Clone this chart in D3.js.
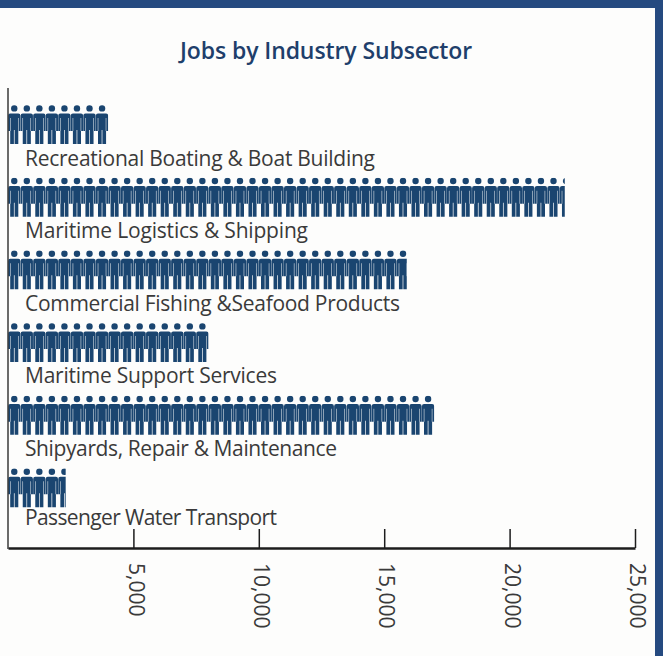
<!DOCTYPE html>
<html>
<head>
<meta charset="utf-8">
<script src="https://cdn.jsdelivr.net/npm/d3@7"></script>
<style>
html, body { margin: 0; padding: 0; background: #fdfdfc; }
svg { display: block; }
.label { font-family: "Open Sans", sans-serif; font-size: 21px; fill: #3a3a3a; }
.title { font-family: "Open Sans", sans-serif; font-size: 23px; font-weight: 600; letter-spacing: -0.1px; fill: #1f3f6b; text-anchor: middle; }
.tick text { font-family: "Open Sans", sans-serif; font-size: 21px; fill: #3a3a3a; }
</style>
</head>
<body>
<div id="chart"></div>
<script>
var svgWidth = 663;
var svgHeight = 656;

var categories = [
    "Recreational Boating & Boat Building",
    "Maritime Logistics & Shipping",
    "Commercial Fishing &Seafood Products",
    "Maritime Support Services",
    "Shipyards, Repair & Maintenance",
    "Passenger Water Transport"
];
var jobs = [4000, 22200, 15900, 8000, 17000, 2300];
var tickValues = [5000, 10000, 15000, 20000, 25000];
var jobsPerIcon = 500;

var svg = d3.select("#chart")
    .append("svg")
    .attr("width", svgWidth)
    .attr("height", svgHeight);

svg.append("rect")
    .attr("width", svgWidth)
    .attr("height", svgHeight)
    .attr("fill", "#fdfdfc");

var x = d3.scaleLinear().domain([0, 25000]).range([8, 635]);
var y = d3.scaleBand().domain(categories).range([105, 541]);

// the labels don't sit evenly in the original, so baseline and width go per row
var labelY = d3.scaleOrdinal().domain(categories).range([165.5, 238, 310.5, 383, 456, 525]);
var labelWidth = d3.scaleOrdinal().domain(categories).range([350, 283, 375, 252, 312, 252]);

var iconW = x(jobsPerIcon) - x(0);
var iconH = 39;

svg.append("text")
    .attr("class", "title")
    .attr("x", 326)
    .attr("y", 59)
    .text("Jobs by Industry Subsector");

// person icon, drawn in a 12.5 x 39 box
var defs = svg.append("defs");
var person = defs.append("g").attr("id", "person");
person.append("circle").attr("cx", iconW / 2).attr("cy", 3.4).attr("r", 3.2);
person.append("path").attr("d",
    "M2.2,8.4 H10.3 Q12.4,8.4 12.4,10.6 V26 H10.5 V13 H10 V26 H10.3 V39 H6.6 V25 H5.9 V39 H2.2 V26 H2.5 V13 H2 V26 H0.1 V10.6 Q0.1,8.4 2.2,8.4 Z");

jobs.forEach(function(value, i) {
    defs.append("clipPath")
        .attr("id", "clip" + i)
        .append("rect")
        .attr("x", x(0))
        .attr("y", y(categories[i]))
        .attr("width", x(value) - x(0))
        .attr("height", iconH + 1);
});

var rows = svg.selectAll("g.row")
    .data(categories)
    .enter()
    .append("g")
    .attr("class", "row")
    .attr("clip-path", function(d, i) { return "url(#clip" + i + ")"; })
    .attr("fill", "#1a4570");

rows.each(function(d, i) {
    d3.select(this).selectAll("use")
        .data(d3.range(Math.ceil(jobs[i] / jobsPerIcon)))
        .enter()
        .append("use")
        .attr("href", "#person")
        .attr("x", function(n) { return x(n * jobsPerIcon); })
        .attr("y", y(d));
});

svg.selectAll("text.label")
    .data(categories)
    .enter()
    .append("text")
    .attr("class", "label")
    .attr("x", 25)
    .attr("y", function(d) { return labelY(d); })
    .attr("textLength", function(d) { return labelWidth(d); })
    .attr("lengthAdjust", "spacing")
    .text(function(d) { return d; });

// axis with ticks pointing up
var axis = d3.axisBottom(x)
    .tickValues(tickValues)
    .tickFormat(d3.format(","))
    .tickSizeInner(-19)
    .tickSizeOuter(0);

var axisGroup = svg.append("g")
    .attr("transform", "translate(0,548)")
    .call(axis);

axisGroup.select(".domain").attr("stroke", "#1d1d1d").attr("stroke-width", 2.5);
axisGroup.selectAll(".tick line").attr("stroke", "#1d1d1d").attr("stroke-width", 1.5);
axisGroup.selectAll(".tick text")
    .attr("transform", "rotate(90)")
    .attr("text-anchor", "start")
    .attr("x", 15)
    .attr("y", -2)
    .attr("dy", "0.35em");

// vertical axis line
svg.append("line")
    .attr("x1", x(0)).attr("x2", x(0))
    .attr("y1", 88).attr("y2", 549)
    .attr("stroke", "#3a3a3a")
    .attr("stroke-width", 1.5);

// blue frame
svg.append("rect").attr("width", svgWidth).attr("height", 8).attr("fill", "#254a80");
svg.append("rect").attr("x", 655).attr("width", 8).attr("height", svgHeight).attr("fill", "#254a80");
</script>
</body>
</html>
